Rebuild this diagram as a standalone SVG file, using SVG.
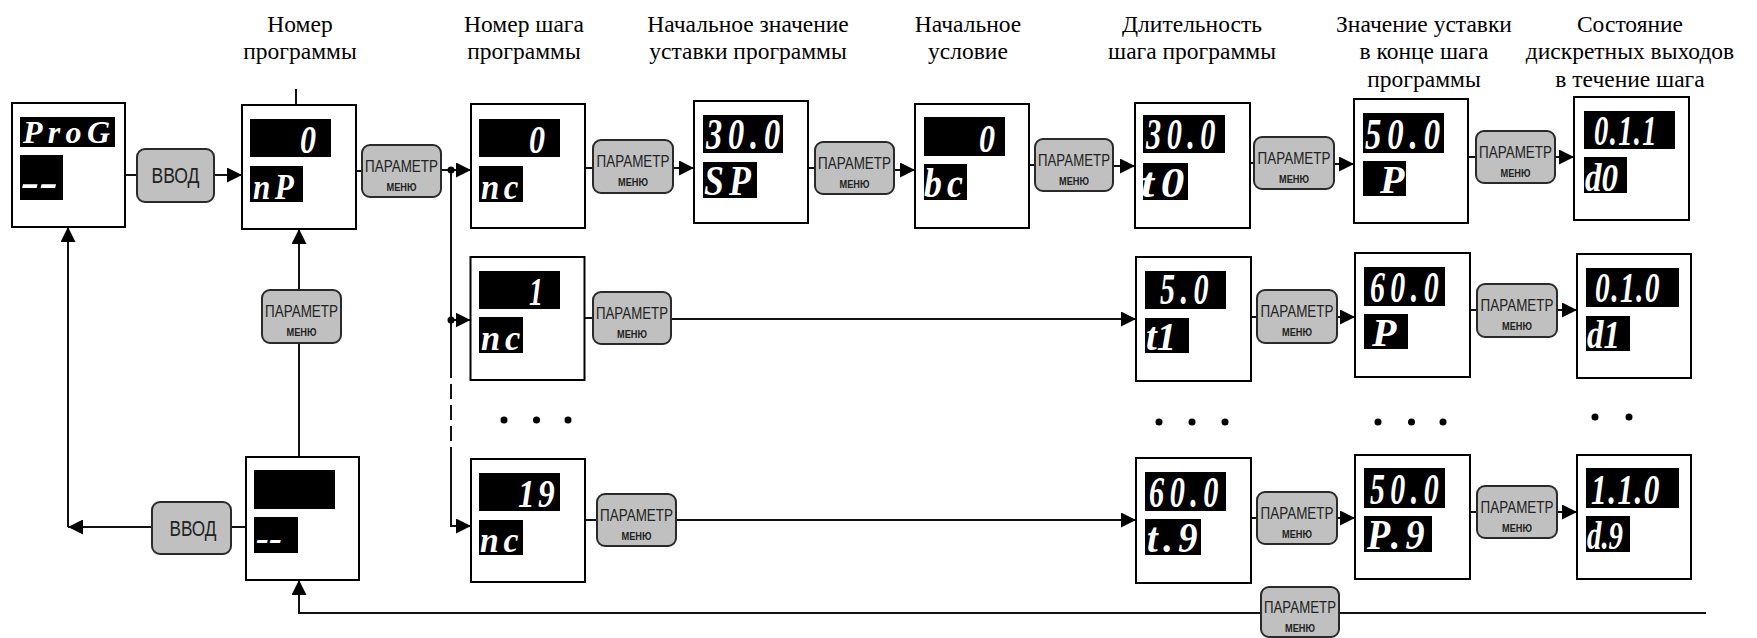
<svg xmlns="http://www.w3.org/2000/svg" width="1757" height="638" viewBox="0 0 1757 638">
<defs>
<marker id="ar" markerUnits="userSpaceOnUse" markerWidth="15" markerHeight="15" refX="15" refY="7.5" orient="auto">
<path d="M0,0 L15,7.5 L0,15 Z" fill="#000"/>
</marker>
<style>
.box{fill:#fff;stroke:#000;stroke-width:2}
.scr{fill:#000}
.btn{fill:#c0c0c0;stroke:#2a2a2a;stroke-width:2}
.ln{fill:none;stroke:#111;stroke-width:2}
.dash{fill:none;stroke:#111;stroke-width:2;stroke-dasharray:15 6}
.ttl{font-family:"Liberation Serif","Times New Roman",serif;font-size:23.5px;fill:#000;text-anchor:middle}
.v{font-family:"Liberation Serif","Times New Roman",serif;font-weight:bold;font-style:italic;fill:#fff}
.n{font-size:44px;letter-spacing:8px}
.s{font-size:42px;letter-spacing:2px}
.o{font-size:40px}
.l{font-size:42px;letter-spacing:6px}
.k{font-size:36px;letter-spacing:5px}
.e{text-anchor:end}
.pm{font-family:"Liberation Sans",Arial,sans-serif;font-size:17px;fill:#222;text-anchor:middle}
.mn{font-family:"Liberation Sans",Arial,sans-serif;font-size:10px;font-weight:bold;fill:#222;text-anchor:middle}
.vv{font-family:"Liberation Sans",Arial,sans-serif;font-size:22px;fill:#222;text-anchor:middle}
.dot{fill:#000}
</style>
</defs>
<rect width="1757" height="638" fill="#fff"/>

<g id="titles">
<text class="ttl" x="300" y="31.5">Номер</text>
<text class="ttl" x="300" y="59">программы</text>
<text class="ttl" x="524" y="31.5">Номер шага</text>
<text class="ttl" x="524" y="59">программы</text>
<text class="ttl" x="748" y="31.5">Начальное значение</text>
<text class="ttl" x="748" y="59">уставки программы</text>
<text class="ttl" x="968" y="31.5">Начальное</text>
<text class="ttl" x="968" y="59">условие</text>
<text class="ttl" x="1192" y="31.5">Длительность</text>
<text class="ttl" x="1192" y="59">шага программы</text>
<text class="ttl" x="1424" y="31.5">Значение уставки</text>
<text class="ttl" x="1424" y="59">в конце шага</text>
<text class="ttl" x="1424" y="87">программы</text>
<text class="ttl" x="1630" y="31.5">Состояние</text>
<text class="ttl" x="1630" y="59">дискретных выходов</text>
<text class="ttl" x="1630" y="87">в течение шага</text>
</g>

<g id="connectors">
<path class="ln" d="M125,175 H137"/>
<path class="ln" d="M214,175 H242" marker-end="url(#ar)"/>
<path class="ln" d="M356,171 H362"/>
<path class="ln" d="M441,170 H471" marker-end="url(#ar)"/>
<path class="ln" d="M585,168 H593"/>
<path class="ln" d="M673,168 H694" marker-end="url(#ar)"/>
<path class="ln" d="M808,168 H815"/>
<path class="ln" d="M894,170 H915" marker-end="url(#ar)"/>
<path class="ln" d="M1029,165 H1035"/>
<path class="ln" d="M1113,166 H1135" marker-end="url(#ar)"/>
<path class="ln" d="M1250,163 H1254"/>
<path class="ln" d="M1334,164 H1354" marker-end="url(#ar)"/>
<path class="ln" d="M1468,157 H1476"/>
<path class="ln" d="M1555,157 H1574" marker-end="url(#ar)"/>

<path class="ln" d="M451,320 H470.5" marker-end="url(#ar)"/>
<path class="ln" d="M584.5,318 H593"/>
<path class="ln" d="M671,319 H1136" marker-end="url(#ar)"/>
<path class="ln" d="M1251,317 H1257"/>
<path class="ln" d="M1337,317 H1355" marker-end="url(#ar)"/>
<path class="ln" d="M1470,310 H1477"/>
<path class="ln" d="M1557,310 H1577" marker-end="url(#ar)"/>

<path class="ln" d="M451,170 V363"/>
<path class="dash" d="M451,363 V452"/>
<path class="ln" d="M451,452 V526 H471" marker-end="url(#ar)"/>
<path class="ln" d="M585,520 H597"/>
<path class="ln" d="M676,520 H1136" marker-end="url(#ar)"/>
<path class="ln" d="M1251,518 H1257"/>
<path class="ln" d="M1337,518 H1355" marker-end="url(#ar)"/>
<path class="ln" d="M1470,512 H1477"/>
<path class="ln" d="M1557,512 H1577" marker-end="url(#ar)"/>

<path class="ln" d="M152,527 H68" marker-end="url(#ar)"/>
<path class="ln" d="M68,527 V227" marker-end="url(#ar)"/>
<path class="ln" d="M231,527 H246"/>
<path class="ln" d="M299,457 V343"/>
<path class="ln" d="M299,290 V229" marker-end="url(#ar)"/>
<path class="ln" d="M296,89 V105"/>
<path class="ln" d="M1706,613 H1339"/>
<path class="ln" d="M1261,613 H299 V580" marker-end="url(#ar)"/>

<circle class="dot" cx="451" cy="170" r="3.5"/>
<circle class="dot" cx="451" cy="320" r="3.5"/>
</g>

<g id="ellipses">
<circle class="dot" cx="504" cy="420" r="3.5"/>
<circle class="dot" cx="536.5" cy="420" r="3.5"/>
<circle class="dot" cx="568" cy="420" r="3.5"/>
<circle class="dot" cx="1159" cy="422" r="3.5"/>
<circle class="dot" cx="1192" cy="422" r="3.5"/>
<circle class="dot" cx="1225" cy="422" r="3.5"/>
<circle class="dot" cx="1378" cy="422" r="3.5"/>
<circle class="dot" cx="1411.5" cy="422" r="3.5"/>
<circle class="dot" cx="1443" cy="422" r="3.5"/>
<circle class="dot" cx="1595" cy="417" r="3.5"/>
<circle class="dot" cx="1629" cy="417" r="3.5"/>
</g>

<g id="btn-vvod-1"><rect class="btn" x="137" y="149" width="77" height="53" rx="8"/><text class="vv" x="175.5" y="183" textLength="48" lengthAdjust="spacingAndGlyphs">ВВОД</text></g>
<g id="btn-vvod-2"><rect class="btn" x="152" y="502" width="79" height="52" rx="8"/><text class="vv" x="193" y="536" textLength="47" lengthAdjust="spacingAndGlyphs">ВВОД</text></g>

<g id="btn-1"><rect class="btn" x="362" y="145" width="79" height="52" rx="8"/><text class="pm" x="401.5" y="171.7" textLength="73" lengthAdjust="spacingAndGlyphs">ПАРАМЕТР</text><text class="mn" x="401.5" y="191" textLength="30" lengthAdjust="spacingAndGlyphs">МЕНЮ</text></g>
<g id="btn-2"><rect class="btn" x="593" y="140" width="80" height="53" rx="8"/><text class="pm" x="633" y="166.7" textLength="73" lengthAdjust="spacingAndGlyphs">ПАРАМЕТР</text><text class="mn" x="633" y="186" textLength="30" lengthAdjust="spacingAndGlyphs">МЕНЮ</text></g>
<g id="btn-3"><rect class="btn" x="815" y="142" width="79" height="52" rx="8"/><text class="pm" x="854.5" y="168.7" textLength="73" lengthAdjust="spacingAndGlyphs">ПАРАМЕТР</text><text class="mn" x="854.5" y="188" textLength="30" lengthAdjust="spacingAndGlyphs">МЕНЮ</text></g>
<g id="btn-4"><rect class="btn" x="1035" y="139" width="78" height="52" rx="8"/><text class="pm" x="1074" y="165.7" textLength="72" lengthAdjust="spacingAndGlyphs">ПАРАМЕТР</text><text class="mn" x="1074" y="185" textLength="30" lengthAdjust="spacingAndGlyphs">МЕНЮ</text></g>
<g id="btn-5"><rect class="btn" x="1254" y="137" width="80" height="52" rx="8"/><text class="pm" x="1294" y="163.7" textLength="73" lengthAdjust="spacingAndGlyphs">ПАРАМЕТР</text><text class="mn" x="1294" y="183" textLength="30" lengthAdjust="spacingAndGlyphs">МЕНЮ</text></g>
<g id="btn-6"><rect class="btn" x="1476" y="131" width="79" height="52" rx="8"/><text class="pm" x="1515.5" y="157.7" textLength="73" lengthAdjust="spacingAndGlyphs">ПАРАМЕТР</text><text class="mn" x="1515.5" y="177" textLength="30" lengthAdjust="spacingAndGlyphs">МЕНЮ</text></g>
<g id="btn-7"><rect class="btn" x="262" y="290" width="79" height="53" rx="8"/><text class="pm" x="301.5" y="316.7" textLength="73" lengthAdjust="spacingAndGlyphs">ПАРАМЕТР</text><text class="mn" x="301.5" y="336" textLength="30" lengthAdjust="spacingAndGlyphs">МЕНЮ</text></g>
<g id="btn-8"><rect class="btn" x="593" y="292" width="78" height="52" rx="8"/><text class="pm" x="632" y="318.7" textLength="72" lengthAdjust="spacingAndGlyphs">ПАРАМЕТР</text><text class="mn" x="632" y="338" textLength="30" lengthAdjust="spacingAndGlyphs">МЕНЮ</text></g>
<g id="btn-9"><rect class="btn" x="1257" y="290" width="80" height="53" rx="8"/><text class="pm" x="1297" y="316.7" textLength="73" lengthAdjust="spacingAndGlyphs">ПАРАМЕТР</text><text class="mn" x="1297" y="336" textLength="30" lengthAdjust="spacingAndGlyphs">МЕНЮ</text></g>
<g id="btn-10"><rect class="btn" x="1477" y="284" width="80" height="53" rx="8"/><text class="pm" x="1517" y="310.7" textLength="73" lengthAdjust="spacingAndGlyphs">ПАРАМЕТР</text><text class="mn" x="1517" y="330" textLength="30" lengthAdjust="spacingAndGlyphs">МЕНЮ</text></g>
<g id="btn-11"><rect class="btn" x="597" y="494" width="79" height="52" rx="8"/><text class="pm" x="636.5" y="520.7" textLength="73" lengthAdjust="spacingAndGlyphs">ПАРАМЕТР</text><text class="mn" x="636.5" y="540" textLength="30" lengthAdjust="spacingAndGlyphs">МЕНЮ</text></g>
<g id="btn-12"><rect class="btn" x="1257" y="492" width="80" height="52" rx="8"/><text class="pm" x="1297" y="518.7" textLength="73" lengthAdjust="spacingAndGlyphs">ПАРАМЕТР</text><text class="mn" x="1297" y="538" textLength="30" lengthAdjust="spacingAndGlyphs">МЕНЮ</text></g>
<g id="btn-13"><rect class="btn" x="1477" y="486" width="80" height="52" rx="8"/><text class="pm" x="1517" y="512.7" textLength="73" lengthAdjust="spacingAndGlyphs">ПАРАМЕТР</text><text class="mn" x="1517" y="532" textLength="30" lengthAdjust="spacingAndGlyphs">МЕНЮ</text></g>
<g id="btn-14"><rect class="btn" x="1261" y="587" width="78" height="50" rx="8"/><text class="pm" x="1300" y="613" textLength="72" lengthAdjust="spacingAndGlyphs">ПАРАМЕТР</text><text class="mn" x="1300" y="631.5" textLength="30" lengthAdjust="spacingAndGlyphs">МЕНЮ</text></g>

<g id="n-prog"><rect class="box" x="12" y="103" width="113" height="124"/><rect class="scr" x="20" y="117" width="95" height="30"/><rect class="scr" x="20" y="155" width="43" height="45"/>
<text class="v" x="23" y="143" font-size="32" textLength="87" lengthAdjust="spacing">ProG</text>
<text class="v" x="21" y="197" font-size="44" textLength="37" lengthAdjust="spacingAndGlyphs">--</text></g>

<g id="n-np"><rect class="box" x="242" y="105" width="114" height="124"/><rect class="scr" x="250" y="119" width="81" height="38"/><rect class="scr" x="250" y="166" width="53" height="36"/>
<text class="v o e" x="316" y="153" textLength="16" lengthAdjust="spacingAndGlyphs">0</text>
<text class="v k" x="253" y="199" textLength="45" lengthAdjust="spacingAndGlyphs">nP</text></g>

<g id="n-nc0"><rect class="box" x="471" y="104" width="114" height="124"/><rect class="scr" x="479" y="119" width="81" height="38"/><rect class="scr" x="479" y="166" width="44" height="36"/>
<text class="v o e" x="545" y="153" textLength="16" lengthAdjust="spacingAndGlyphs">0</text>
<text class="v k" x="481" y="199" textLength="42" lengthAdjust="spacingAndGlyphs">nc</text></g>

<g id="n-sp"><rect class="box" x="694" y="101" width="114" height="122"/><rect class="scr" x="703" y="115" width="80" height="38"/><rect class="scr" x="703" y="162" width="54" height="36"/>
<text class="v n" x="706" y="149" textLength="80" lengthAdjust="spacingAndGlyphs">30.0</text>
<text class="v l" x="704" y="195" textLength="52" lengthAdjust="spacingAndGlyphs">SP</text></g>

<g id="n-bc"><rect class="box" x="915" y="104" width="114" height="124"/><rect class="scr" x="924" y="117" width="81" height="39"/><rect class="scr" x="924" y="164" width="43" height="36"/>
<text class="v o e" x="995" y="152" textLength="16" lengthAdjust="spacingAndGlyphs">0</text>
<text class="v l" x="924" y="197" textLength="44" lengthAdjust="spacingAndGlyphs">bc</text></g>

<g id="n-t0"><rect class="box" x="1135" y="103" width="115" height="125"/><rect class="scr" x="1143" y="115" width="82" height="38"/><rect class="scr" x="1143" y="163" width="45" height="37"/>
<text class="v n" x="1146" y="149" textLength="75" lengthAdjust="spacingAndGlyphs">30.0</text>
<text class="v l" x="1141" y="197" textLength="50" lengthAdjust="spacingAndGlyphs">t0</text></g>

<g id="n-p0"><rect class="box" x="1354" y="99" width="114" height="124"/><rect class="scr" x="1363" y="113" width="81" height="40"/><rect class="scr" x="1363" y="161" width="43" height="35"/>
<text class="v n" x="1365" y="149" textLength="81" lengthAdjust="spacingAndGlyphs">50.0</text>
<text class="v o" x="1380" y="193" font-size="42">P</text></g>

<g id="n-d0"><rect class="box" x="1574" y="97" width="115" height="123"/><rect class="scr" x="1584" y="111" width="91" height="38"/><rect class="scr" x="1584" y="157" width="43" height="36"/>
<text class="v s" x="1594" y="145" textLength="64" lengthAdjust="spacingAndGlyphs">0.1.1</text>
<text class="v o" x="1585" y="191" font-size="42" textLength="33" lengthAdjust="spacingAndGlyphs">d0</text></g>

<g id="n-nc1"><rect class="box" x="470.5" y="257" width="114" height="123"/><rect class="scr" x="479" y="271" width="81" height="38"/><rect class="scr" x="479" y="317" width="44" height="36"/>
<text class="v o e" x="543" y="305" textLength="14" lengthAdjust="spacingAndGlyphs">1</text>
<text class="v k" x="481" y="350" textLength="44" lengthAdjust="spacingAndGlyphs">nc</text></g>

<g id="n-t1"><rect class="box" x="1136" y="257" width="115" height="124"/><rect class="scr" x="1145" y="271" width="81" height="38"/><rect class="scr" x="1145" y="318" width="44" height="35"/>
<text class="v n" x="1160" y="304" font-size="40" textLength="54" lengthAdjust="spacingAndGlyphs">5.0</text>
<text class="v o" x="1146" y="350" font-size="42" textLength="30" lengthAdjust="spacingAndGlyphs">t1</text></g>

<g id="n-p1"><rect class="box" x="1355" y="253" width="115" height="124"/><rect class="scr" x="1364" y="267" width="81" height="39"/><rect class="scr" x="1364" y="314" width="44" height="35"/>
<text class="v n" x="1370" y="302" textLength="74" lengthAdjust="spacingAndGlyphs">60.0</text>
<text class="v o" x="1372" y="346" font-size="42">P</text></g>

<g id="n-d1"><rect class="box" x="1577" y="254" width="114" height="124"/><rect class="scr" x="1586" y="268" width="93" height="39"/><rect class="scr" x="1586" y="316" width="44" height="35"/>
<text class="v s" x="1595" y="302" textLength="66" lengthAdjust="spacingAndGlyphs">0.1.0</text>
<text class="v o" x="1587" y="348" font-size="42" textLength="33" lengthAdjust="spacingAndGlyphs">d1</text></g>

<g id="n-end"><rect class="box" x="246" y="457" width="113" height="123"/><rect class="scr" x="254" y="470" width="81" height="39"/><rect class="scr" x="254" y="517" width="44" height="36"/>
<text class="v" x="256" y="550" font-size="36" textLength="26" lengthAdjust="spacingAndGlyphs">--</text></g>

<g id="n-nc19"><rect class="box" x="471" y="459" width="114" height="123"/><rect class="scr" x="479" y="473" width="81" height="38"/><rect class="scr" x="479" y="520" width="44" height="35"/>
<text class="v o" x="518" y="507" textLength="40" lengthAdjust="spacingAndGlyphs" letter-spacing="4">19</text>
<text class="v k" x="480" y="552" textLength="43" lengthAdjust="spacingAndGlyphs">nc</text></g>

<g id="n-t9"><rect class="box" x="1136" y="458" width="115" height="125"/><rect class="scr" x="1145" y="472" width="81" height="39"/><rect class="scr" x="1145" y="519" width="56" height="36"/>
<text class="v n" x="1149" y="507" textLength="75" lengthAdjust="spacingAndGlyphs">60.0</text>
<text class="v l" x="1147" y="552" textLength="56" lengthAdjust="spacingAndGlyphs">t.9</text></g>

<g id="n-p9"><rect class="box" x="1355" y="455" width="115" height="124"/><rect class="scr" x="1364" y="468" width="81" height="40"/><rect class="scr" x="1364" y="516" width="68" height="36"/>
<text class="v n" x="1370" y="504" textLength="74" lengthAdjust="spacingAndGlyphs">50.0</text>
<text class="v l" x="1367" y="549" textLength="63" lengthAdjust="spacingAndGlyphs">P.9</text></g>

<g id="n-d9"><rect class="box" x="1577" y="455" width="114" height="124"/><rect class="scr" x="1586" y="468" width="93" height="40"/><rect class="scr" x="1586" y="516" width="44" height="36"/>
<text class="v s" x="1591" y="504" textLength="70" lengthAdjust="spacingAndGlyphs">1.1.0</text>
<text class="v o" x="1587" y="549" font-size="42" textLength="36" lengthAdjust="spacingAndGlyphs">d.9</text></g>
</svg>
